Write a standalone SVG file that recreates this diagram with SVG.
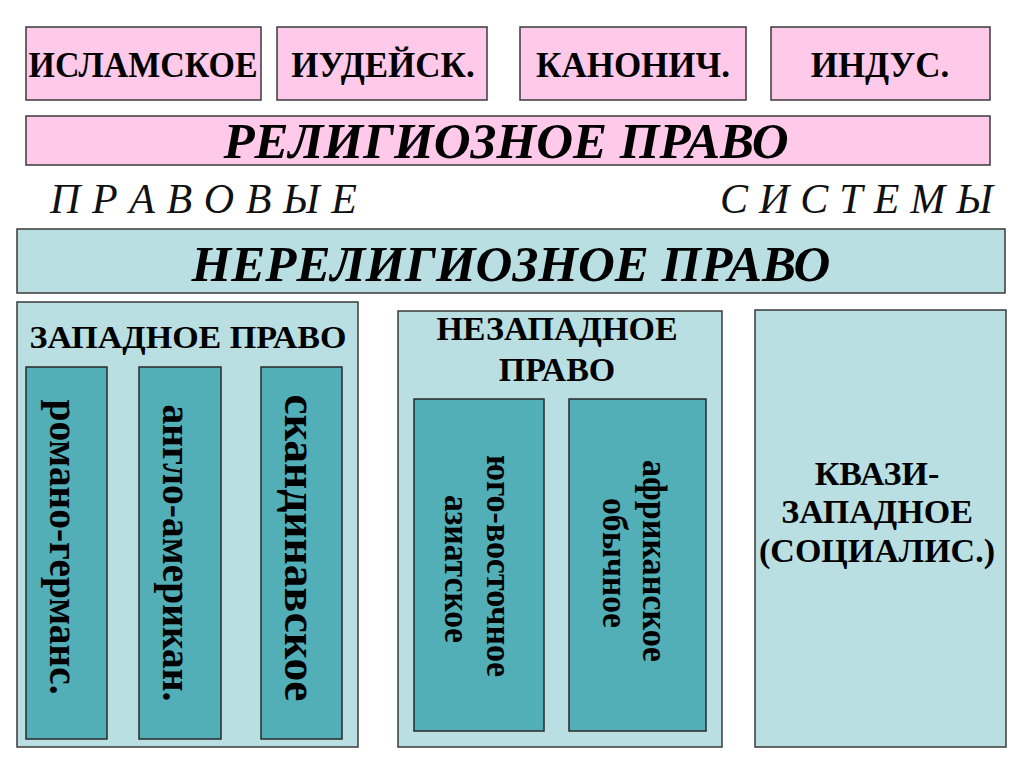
<svg xmlns="http://www.w3.org/2000/svg" width="1024" height="767" viewBox="0 0 1024 767">
<style>
.pink{fill:#ffc9ea;stroke:#3a3a3a;stroke-width:1.5}
.lt{fill:#b9dfe3;stroke:#3a3a3a;stroke-width:1.5}
.dk{fill:#52aeb7;stroke:#2a2a2a;stroke-width:1.5}
text{font-family:'Liberation Serif','Times New Roman',Tinos,Times,serif}
.b{font-weight:700;fill:#000;text-anchor:middle}
.bi{font-weight:700;font-style:italic;fill:#000;text-anchor:middle}
.i{font-style:italic;fill:#111}
</style>
<rect width="1024" height="767" fill="#fff"/>
<g id="islam"><rect class="pink" x="26" y="27" width="235" height="73"/><text class="b" x="143" y="77" font-size="36" textLength="229" lengthAdjust="spacingAndGlyphs">ИСЛАМСКОЕ</text></g>
<g id="judaic"><rect class="pink" x="277" y="27" width="210" height="73"/><text class="b" x="383" y="77" font-size="35">ИУДЕЙСК.</text></g>
<g id="canon"><rect class="pink" x="520" y="27" width="226" height="73"/><text class="b" x="633" y="77" font-size="35">КАНОНИЧ.</text></g>
<g id="hindu"><rect class="pink" x="771" y="27" width="219" height="73"/><text class="b" x="880" y="77" font-size="35">ИНДУС.</text></g>
<g id="religious"><rect class="pink" x="26" y="116" width="964" height="49"/><text class="bi" x="506" y="158" font-size="51">РЕЛИГИОЗНОЕ ПРАВО</text></g>
<g id="legal-systems">
<text class="i" x="50" y="213" font-size="42" textLength="307" lengthAdjust="spacing">П Р А В О В Ы Е</text>
<text class="i" x="720" y="213" font-size="42" textLength="273" lengthAdjust="spacing">С И С Т Е М Ы</text>
</g>
<g id="nonreligious"><rect class="lt" x="17" y="229" width="988" height="64"/><text class="bi" x="511" y="281" font-size="51">НЕРЕЛИГИОЗНОЕ ПРАВО</text></g>
<g id="western">
<rect class="lt" x="17" y="302" width="341" height="445"/>
<text class="b" x="188" y="348" font-size="32" textLength="317" lengthAdjust="spacingAndGlyphs">ЗАПАДНОЕ ПРАВО</text>
</g>
<g id="romano"><rect class="dk" x="26" y="367" width="81" height="372"/><text class="b" transform="translate(50,547) rotate(90)" font-size="43" textLength="295" lengthAdjust="spacingAndGlyphs">романо-германс.</text></g>
<g id="anglo"><rect class="dk" x="139" y="367" width="82" height="372"/><text class="b" transform="translate(163,553) rotate(90)" font-size="43" textLength="297" lengthAdjust="spacingAndGlyphs">англо-американ.</text></g>
<g id="scand"><rect class="dk" x="261" y="367" width="81" height="372"/><text class="b" transform="translate(285,548) rotate(90)" font-size="47" textLength="307" lengthAdjust="spacingAndGlyphs">скандинавское</text></g>
<g id="nonwestern">
<rect class="lt" x="398" y="311" width="324" height="436"/>
<text class="b" x="557" y="340" font-size="34">НЕЗАПАДНОЕ</text>
<text class="b" x="557" y="381" font-size="34">ПРАВО</text>
</g>
<g id="seasian"><rect class="dk" x="414" y="399" width="130" height="332"/>
<text class="b" transform="translate(487,566) rotate(90)" font-size="35" textLength="222" lengthAdjust="spacingAndGlyphs">юго-восточное</text>
<text class="b" transform="translate(445,569) rotate(90)" font-size="35" textLength="148" lengthAdjust="spacingAndGlyphs">азиатское</text></g>
<g id="african"><rect class="dk" x="569" y="399" width="137" height="332"/>
<text class="b" transform="translate(643,561) rotate(90)" font-size="35" textLength="202" lengthAdjust="spacingAndGlyphs">африканское</text>
<text class="b" transform="translate(603,563) rotate(90)" font-size="35" textLength="130" lengthAdjust="spacingAndGlyphs">обычное</text></g>
<g id="quasi">
<rect class="lt" x="755" y="310" width="251" height="437"/>
<text class="b" x="877" y="485" font-size="34">КВАЗИ-</text>
<text class="b" x="877" y="523" font-size="34">ЗАПАДНОЕ</text>
<text class="b" x="877" y="562" font-size="34">(СОЦИАЛИС.)</text>
</g>
<g id="connectors"></g>
</svg>
